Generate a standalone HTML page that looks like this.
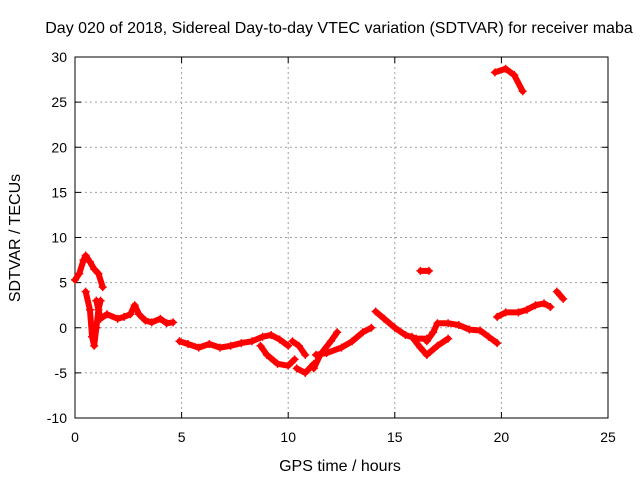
<!DOCTYPE html>
<html><head><meta charset="utf-8"><style>body{margin:0;background:#fff}svg{display:block}text{font-family:"Liberation Sans",sans-serif;font-size:14px;fill:#000}.big{font-size:16px}</style></head>
<body>
<svg id="chart" width="640" height="480" viewBox="0 0 640 480"></svg>
<script>
const xTicks=[0,5,10,15,20,25];
const yTicks=[-10,-5,0,5,10,15,20,25,30];
const segA=[[0,5.3],[0.2,6],[0.4,7.5],[0.5,8],[0.7,7.3],[0.9,6.5],[1.1,6],[1.3,4.5]];
const segB=[[0.5,4],[0.7,2],[0.8,-1],[0.9,-2],[1.0,0],[1.1,2],[1.2,3]];
const segB2=[[1.0,3],[1.2,1],[1.5,1.5],[2,1],[2.3,1.2],[2.6,1.5],[2.8,2.5],[3,1.5],[3.3,0.8],[3.6,0.6],[4,1],[4.3,0.5],[4.6,0.6]];
const segC=[[4.9,-1.5],[5.3,-1.8],[5.8,-2.2],[6.3,-1.8],[6.8,-2.2],[7.3,-2],[7.8,-1.7],[8.3,-1.5],[8.8,-1],[9.2,-0.8],[9.6,-1.3],[10,-2]];
const segD=[[8.7,-2],[9,-3],[9.5,-4],[10,-4.2],[10.3,-3.5]];
const segE=[[10.2,-1.5],[10.5,-2],[10.8,-3]];
const segF=[[10.4,-4.5],[10.8,-5],[11.2,-4]];
const segG=[[11.2,-4.5],[11.5,-3],[12,-1.5],[12.3,-0.5]];
const segH=[[11.3,-3],[11.8,-2.8],[12.5,-2.2],[13,-1.5],[13.5,-0.5],[13.9,0]];
const segI=[[14.1,1.8],[14.5,1],[15,0],[15.5,-0.8],[16,-1.2],[16.5,-1.2]];
const segJ=[[15.8,-1],[16.2,-2.2],[16.5,-3]];
const segK=[[16.5,-3],[17,-2],[17.5,-1.2]];
const segL=[[16.5,-1.5],[16.8,-0.5],[17,0.5],[17.5,0.5],[18,0.3],[18.5,-0.2],[19,-0.3],[19.4,-1],[19.8,-1.7]];
const segM=[[16.2,6.3],[16.6,6.3]];
const segN=[[19.8,1.2],[20.2,1.7],[20.8,1.7],[21.2,2],[21.6,2.5],[22,2.7],[22.3,2.3]];
const segO=[[22.6,4],[22.9,3.2]];
const segP=[[19.7,28.3],[20.2,28.7],[20.6,28],[21,26.2]];
const segments=[segA,segB,segB2,segC,segD,segE,segF,segG,segH,segI,segJ,segK,segL,segM,segN,segO,segP];

const L=75,R=608,T=57,B=418;
const xs=t=>L+(t-0)/(25-0)*(R-L);
const ys=v=>B-(v+10)/40*(B-T);
const svg=document.getElementById('chart');
const NS='http://www.w3.org/2000/svg';
function mk(tag,attrs,parent){const e=document.createElementNS(NS,tag);for(const k in attrs)e.setAttribute(k,attrs[k]);(parent||svg).appendChild(e);return e;}

const title=mk('text',{x:339,y:33,'text-anchor':'middle','class':'big'});


title.textContent='Day 020 of 2018, Sidereal Day-to-day VTEC variation (SDTVAR) for receiver maba';

xTicks.forEach(t=>{
  const x=xs(t);
  if(t>0&&t<25){const g=mk('line',{x1:x,x2:x,y1:T,y2:B,stroke:'#a0a0a0','stroke-dasharray':'2,3'});
  
  }
  mk('line',{x1:x,x2:x,y1:B,y2:B-6,stroke:'#000'});
  mk('line',{x1:x,x2:x,y1:T,y2:T+6,stroke:'#000'});
  const lb=mk('text',{x:x,y:B+24,'text-anchor':'middle'});
  
  
  lb.textContent=t;
});
yTicks.forEach(v=>{
  const y=ys(v);
  if(v>-10&&v<30){const g=mk('line',{x1:L,x2:R,y1:y,y2:y,stroke:'#a0a0a0','stroke-dasharray':'2,3'});
  
  }
  mk('line',{x1:L,x2:L+6,y1:y,y2:y,stroke:'#000'});
  mk('line',{x1:R,x2:R-6,y1:y,y2:y,stroke:'#000'});
  const lb=mk('text',{x:L-8,y:y+5,'text-anchor':'end'});
  
  
  lb.textContent=v;
});
const frame=mk('rect',{x:L,y:T,width:R-L,height:B-T,fill:'none',stroke:'#000'});



segments.forEach(seg=>{
  const p=mk('polyline',{points:seg.map(d=>xs(d[0])+','+ys(d[1])).join(' '),fill:'none',stroke:'#ff0000','stroke-width':6,'stroke-linejoin':'round','stroke-linecap':'round'});
  
  
  seg.forEach(d=>{
    const m=mk('path',{d:`M${xs(d[0])-4},${ys(d[1])}h8M${xs(d[0])},${ys(d[1])-4}v8`,stroke:'#ff0000','stroke-width':1.5});
    
    
  });
});

const xl=mk('text',{x:340,y:471,'text-anchor':'middle','class':'big'});


xl.textContent='GPS time / hours';
const yl=mk('text',{x:0,y:0,'text-anchor':'middle','class':'big',transform:'translate(20,238) rotate(-90)'});


yl.textContent='SDTVAR / TECUs';
</script>
</body></html>
